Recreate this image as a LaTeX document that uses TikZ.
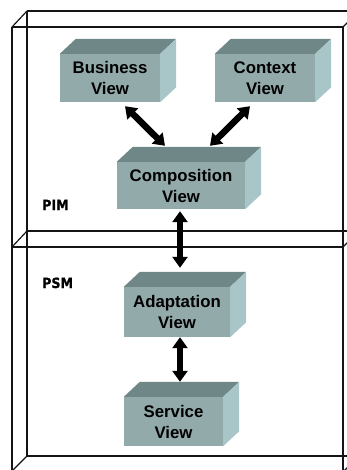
\documentclass[tikz,border=0pt]{standalone}
\usepackage{fontspec}
\setmainfont{Liberation Sans}
\newfontfamily\labelfont{DejaVu Sans}[FakeStretch=0.9,BoldFeatures={FakeBold=1.2}]
\usetikzlibrary{arrows.meta,calc}

\definecolor{facefront}{RGB}{147,170,171}
\definecolor{facetop}{RGB}{112,135,135}
\definecolor{faceside}{RGB}{168,197,199}
\definecolor{inkdark}{RGB}{20,20,20}

\tikzset{
  frameline/.style={draw=inkdark, line width=1.2pt},
  framefront/.style={draw=inkdark, line width=2pt},
  viewface/.style={fill=facefront, inner sep=0pt, text=black,
    font=\fontsize{16.8}{21}\selectfont\bfseries, align=center},
  viewtop/.style={fill=facetop},
  viewside/.style={fill=faceside},
  dblarrow/.style={line width=6.5pt, draw=black,
    {Triangle[width=15pt,length=11pt]}-{Triangle[width=15pt,length=11pt]}},
  layerlabel/.style={inner sep=0pt, anchor=base west, text=black,
    font=\fontsize{14}{14}\selectfont\labelfont\bfseries}
}

% a cuboid: front face as a named node, top and right faces behind it
\newcommand\viewblock[5]{%
  \node[viewface, minimum width=#3, minimum height=#4] (#1) at #2 {#5};
  \fill[viewtop] (#1.north west) -- ++(16pt,15pt)
    -- ($(#1.north east)+(16pt,15pt)$) -- (#1.north east) -- cycle;
  \fill[viewside] (#1.north east) -- ++(16pt,15pt)
    -- ($(#1.south east)+(16pt,15pt)$) -- (#1.south east) -- cycle;
}

\begin{document}
\begin{tikzpicture}[x=1pt,y=-1pt]
\useasboundingbox (0,0) rectangle (347,470);
\clip (0,0) rectangle (347,470);

% layered wireframe slabs
\draw[frameline] (27,11) -- (360,11);
\draw[frameline] (12,27) -- (343,27);
\draw[frameline] (12,27) -- (27,11);
\draw[frameline] (343,27) -- (359,11);
\draw[frameline] (27,11) -- (27,456);
\draw[frameline] (12,27) -- (12,480);
\draw[frameline] (343,27) -- (343,480);
\draw[frameline] (27,231) -- (360,231);
\draw[framefront] (12,247) -- (343,247);
\draw[frameline] (12,247) -- (27,231);
\draw[frameline] (343,247) -- (359,231);
\draw[frameline] (27,456) -- (360,456);
\draw[frameline] (27,456) -- (11,472);
\draw[frameline] (343,472) -- (359,456);

% layer labels
\node[layerlabel] (pim) at (42,210) {PIM};
\node[layerlabel] (psm) at (42,288) {PSM};

% views
\viewblock{business}{(110,78)}{100pt}{48pt}{Business\\View}
\viewblock{context}{(265,78)}{100pt}{48pt}{Context\\View}
\viewblock{composition}{(181,185.5)}{128pt}{47pt}{Composition\\View}
\viewblock{adaptation}{(177,312)}{106pt}{50pt}{Adaptation\\View}
\viewblock{service}{(173.5,421.5)}{99pt}{49pt}{Service\\View}

% relations between views
\draw[dblarrow] ([xshift=15pt,yshift=-4pt]business.south)
  -- ([xshift=-16pt,yshift=16pt]composition.north);
\draw[dblarrow] ([xshift=-15pt,yshift=-4pt]context.south)
  -- ([xshift=29pt,yshift=16pt]composition.north);
\draw[dblarrow] ([xshift=-1pt,yshift=-2pt]composition.south)
  -- ([xshift=3pt,yshift=19pt]adaptation.north);
\draw[dblarrow] ([xshift=3pt,yshift=0pt]adaptation.south)
  -- ([xshift=6.5pt,yshift=15pt]service.north);
\end{tikzpicture}
\end{document}
